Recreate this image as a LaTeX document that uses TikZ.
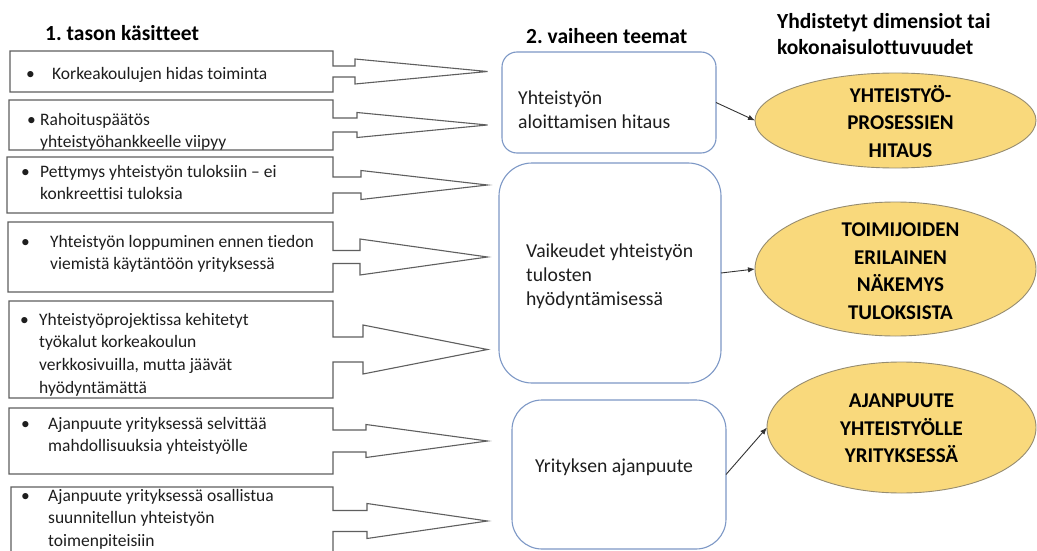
\documentclass[tikz,border=0pt]{standalone}
\usepackage{fontspec}
\setmainfont{Carlito}[Ligatures={NoCommon}]
\usetikzlibrary{shapes.geometric,arrows.meta,calc}
\frenchspacing

\definecolor{boxline}{RGB}{95,95,95}
\definecolor{themeline}{RGB}{125,152,198}
\definecolor{dimfill}{RGB}{249,217,124}
\definecolor{dimline}{RGB}{150,140,112}
\definecolor{txt}{RGB}{30,30,30}

% bullet hanging to the left of the first line, plus a strut fixing the line top
\newcommand\bul[1]{\rule{0pt}{14pt}\llap{\makebox[#1pt][l]{•}}}
% outline of a concept box merged with its block arrow
% #1 box name, #2 shaft half width, #3 head offset from box edge, #4 head half width
\newcommand\calloutpath[4]{%
  \draw[callout] (#1.north west) -- (#1.north east)
    -- ($(#1.east)+(0,-#2)$) -- ($(#1.east)+(#3,-#2)$) -- ($(#1.east)+(#3,-#4)$)
    -- (#1.east -| tipline)
    -- ($(#1.east)+(#3,#4)$) -- ($(#1.east)+(#3,#2)$) -- ($(#1.east)+(0,#2)$)
    -- (#1.south east) -- (#1.south west) -- cycle;}

\begin{document}
\begin{tikzpicture}[x=1pt,y=-1pt,
  cbox/.style={rectangle,draw=none,inner sep=0pt,outer sep=0pt,anchor=north west},
  callout/.style={draw=boxline,line width=1.1pt,line join=miter},
  ctext/.style={anchor=north west,align=left,inner sep=0pt,text=txt,
    font=\fontsize{17.5}{22.7}\selectfont},
  theme/.style={rectangle,draw=themeline,line width=1.1pt,fill=white,
    inner sep=0pt,outer sep=0pt,anchor=north west},
  mtext/.style={align=left,inner sep=0pt,text=txt,
    font=\fontsize{19.7}{24}\selectfont},
  dim/.style={ellipse,draw=dimline,line width=0.9pt,fill=dimfill,inner sep=0pt,outer sep=0pt},
  dimtext/.style={align=center,inner sep=0pt,text=black,
    font=\bfseries\fontsize{21}{27.5}\selectfont},
  head/.style={inner sep=0pt,text=black,font=\bfseries\fontsize{21.5}{26}\selectfont},
  conn/.style={draw=black!80,line width=0.9pt,-{Latex[length=7pt,width=5.5pt]}}
]
\useasboundingbox (0,0) rectangle (1037,551);
\clip (0,0) rectangle (1037,551);
\fill[white] (0,0) rectangle (1037,551);

% column headings
\node[head,anchor=base west] (h1) at (45,41) {1. tason käsitteet};
\node[head,anchor=base west] (h2) at (526,44) {2. vaiheen teemat};
\node[head,anchor=north west,align=left] (h3) at (777,12)
  {\rule{0pt}{16pt}Yhdistetyt dimensiot tai\\kokonaisulottuvuudet};

% first-level concepts
\coordinate (tipline) at (487.5,0);
\node[cbox,minimum width=323pt,minimum height=41pt] (b1) at (10,51) {};
\node[cbox,minimum width=324pt,minimum height=50pt] (b2) at (9,100) {};
\node[cbox,minimum width=326pt,minimum height=56pt] (b3) at (7,157) {};
\node[cbox,minimum width=325pt,minimum height=70pt] (b4) at (8,222) {};
\node[cbox,minimum width=324pt,minimum height=97pt] (b5) at (9,301) {};
\node[cbox,minimum width=324pt,minimum height=66pt] (b6) at (9,408) {};
\node[cbox,minimum width=322pt,minimum height=68pt] (b7) at (11,487) {};

\calloutpath{b1}{5.5}{22}{12.5}
\calloutpath{b2}{7}{24}{12.5}
\calloutpath{b3}{8}{28}{14.5}
\calloutpath{b4}{6.5}{27}{18}
\calloutpath{b5}{12.5}{30}{24.5}
\calloutpath{b6}{11}{33}{16.5}
\calloutpath{b7}{10.5}{34}{17.5}

\node[ctext] (t1) at (52,65) {\bul{26}Korkeakoulujen hidas toiminta};
\node[ctext] (t2) at (40,111) {\bul{13}Rahoituspäätös\\yhteistyöhankkeelle viipyy};
\node[ctext] (t3) at (40,163) {\bul{19}Pettymys yhteistyön tuloksiin – ei\\konkreettisi tuloksia};
\node[ctext] (t4) at (50,233) {\bul{29}Yhteistyön loppuminen ennen tiedon\\viemistä käytäntöön yrityksessä};
\node[ctext] (t5) at (39,311) {\bul{19}Yhteistyöprojektissa kehitetyt\\työkalut korkeakoulun\\verkkosivuilla, mutta jäävät\\hyödyntämättä};
\node[ctext] (t6) at (48,415) {\bul{27}Ajanpuute yrityksessä selvittää\\mahdollisuuksia yhteistyölle};
\node[ctext] (t7) at (48,487) {\bul{27}Ajanpuute yrityksessä osallistua\\suunnitellun yhteistyön\\toimenpiteisiin};

% second-stage themes
\node[theme,minimum width=214pt,minimum height=101pt,rounded corners=15pt] (mA) at (502,52) {};
\node[theme,minimum width=222pt,minimum height=220pt,rounded corners=33pt] (mB) at (499,163) {};
\node[theme,minimum width=214pt,minimum height=149pt,rounded corners=30pt] (mC) at (512,400) {};
\node[mtext,anchor=north west] (mAt) at (518,88) {\rule{0pt}{16pt}Yhteistyön\\aloittamisen hitaus};
\node[mtext,anchor=north west] (mBt) at (526,241) {\rule{0pt}{16pt}Vaikeudet yhteistyön\\tulosten\\hyödyntämisessä};
\node[mtext,anchor=base west] (mCt) at (535,472) {Yrityksen ajanpuute};

% combined dimensions
\node[dim,minimum width=281pt,minimum height=95pt] (e1) at (895.5,120.5) {};
\node[dim,minimum width=281pt,minimum height=134pt] (e2) at (895.5,269) {};
\node[dim,minimum width=269pt,minimum height=131pt] (e3) at (901.5,427.5) {};
\node[dimtext] (e1t) at ($(e1.center)+(5,1)$) {YHTEISTYÖ-\\PROSESSIEN\\HITAUS};
\node[dimtext] (e2t) at ($(e2.center)+(5,2)$) {TOIMIJOIDEN\\ERILAINEN\\NÄKEMYS\\TULOKSISTA};
\node[dimtext] (e3t) at ($(e3.center)+(0,1)$) {AJANPUUTE\\YHTEISTYÖLLE\\YRITYKSESSÄ};

% links from themes to dimensions
\draw[conn] (mA.east) -- (e1.west);
\draw[conn] (mB.east) -- (e2.west);
\draw[conn] (mC.east) -- (e3.west);
\end{tikzpicture}
\end{document}
